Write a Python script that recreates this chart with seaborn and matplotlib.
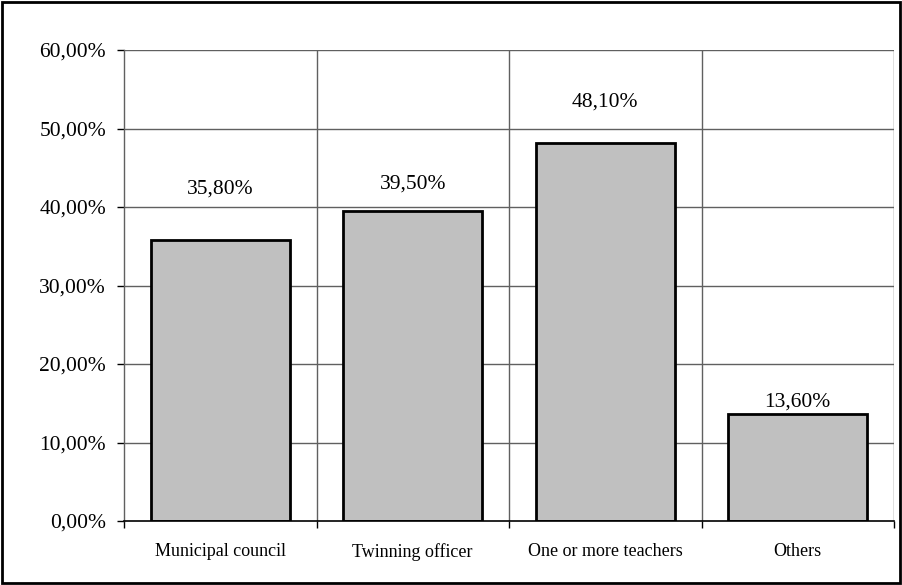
import matplotlib
matplotlib.use("Agg")
import matplotlib.pyplot as plt
import seaborn as sns
import pandas as pd
from matplotlib.ticker import FixedLocator, FuncFormatter
from matplotlib.patches import Rectangle

categories = ["Municipal council", "Twinning officer", "One or more teachers", "Others"]
values = [35.80, 39.50, 48.10, 13.60]
value_labels = ["35,80%", "39,50%", "48,10%", "13,60%"]
y_ticks = [0, 10, 20, 30, 40, 50, 60]

sns.set_theme(style="white")
plt.rcParams['font.family'] = ['Liberation Serif', 'DejaVu Serif']

fig = plt.figure(figsize=(9.02, 5.85), dpi=100)
ax = fig.add_axes([124/902, 1 - 521/585, (894-124)/902, (521-50)/585])

df = pd.DataFrame({"cat": categories, "val": values})
sns.barplot(data=df, x="cat", y="val", ax=ax, color="#C0C0C0", saturation=1,
            edgecolor="black", linewidth=2, width=0.72)

ax.set_xlim(-0.5, 3.5)
ax.set_ylim(0, 60)
ax.set_xlabel("")
ax.set_ylabel("")

# y ticks and gridlines
ax.yaxis.set_major_locator(FixedLocator(y_ticks))
ax.yaxis.set_major_formatter(FuncFormatter(lambda v, p: f"{v:.2f}".replace(".", ",") + "%"))
ax.tick_params(axis="y", which="major", length=5, width=1, color="black", labelsize=15.5, pad=8, left=True)
for t in ax.get_yticklabels():
    t.set_color("black")

# x: labels at centers (no tick), tick marks at boundaries
ax.xaxis.set_major_locator(FixedLocator([0, 1, 2, 3]))
ax.set_xticklabels(categories)
ax.tick_params(axis="x", which="major", length=0, labelsize=13, pad=16, colors="black")
ax.xaxis.set_minor_locator(FixedLocator([-0.5, 0.5, 1.5, 2.5, 3.5]))
ax.tick_params(axis="x", which="minor", length=5, width=1, color="black", bottom=True)

ax.grid(False)
for y in y_ticks[1:]:
    ax.axhline(y, color="#606060", linewidth=1, zorder=0)
for x in [0.5, 1.5, 2.5, 3.5]:
    ax.axvline(x, color="#606060", linewidth=1, zorder=0)

for s in ["top", "right"]:
    ax.spines[s].set_visible(False)
ax.spines["left"].set_color("#606060")
ax.spines["left"].set_linewidth(1)
ax.spines["bottom"].set_color("black")
ax.spines["bottom"].set_linewidth(1.2)

# value labels (offset of label centre above bar top, in pixels)
label_offsets = [51, 27, 41, 12]
for i, (v, lab) in enumerate(zip(values, value_labels)):
    ax.annotate(lab, (i, v), xytext=(0, label_offsets[i] * 0.72), textcoords="offset points",
                ha="center", va="center", fontsize=15.5, color="black")

# figure border
fig.patches.append(Rectangle((0.002, 0.003), 0.996, 0.994, transform=fig.transFigure,
                             fill=False, edgecolor="black", linewidth=2))

fig.savefig("out.png", dpi=100)
